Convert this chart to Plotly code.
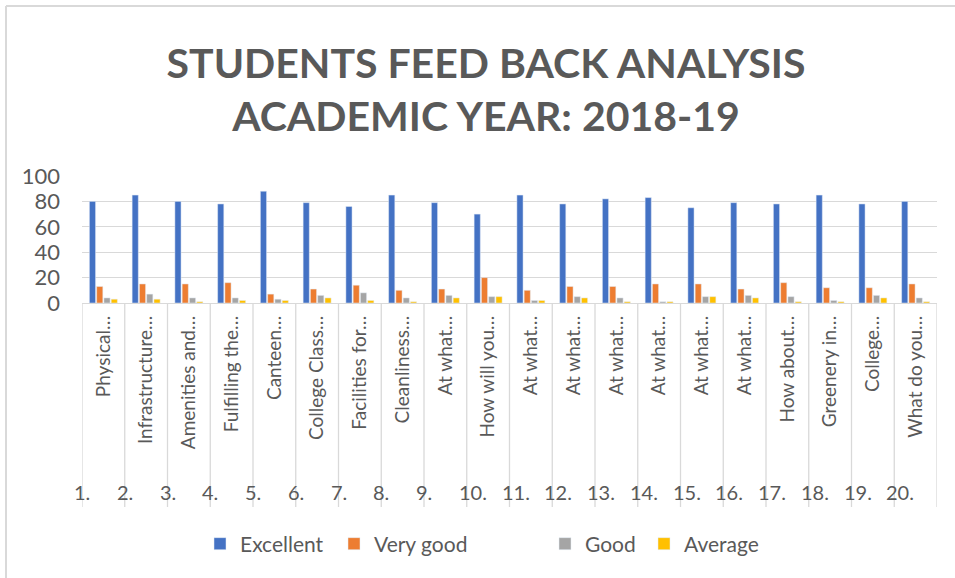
import plotly.graph_objects as go

# ---- data ----
numbers = [f"{i}." for i in range(1, 21)]
questions = ["Physical…", "Infrastructure…", "Amenities and…", "Fulfilling the…", "Canteen…",
             "College Class…", "Facilities for…", "Cleanliness…", "At what…", "How will you…",
             "At what…", "At what…", "At what…", "At what…", "At what…",
             "At what…", "How about…", "Greenery in…", "College…", "What do you…"]
excellent = [80, 85, 80, 78, 88, 79, 76, 85, 79, 70, 85, 78, 82, 83, 75, 79, 78, 85, 78, 80]
very_good = [13, 15, 15, 16, 7, 11, 14, 10, 11, 20, 10, 13, 13, 15, 15, 11, 16, 12, 12, 15]
good =      [4, 7, 4, 4, 3, 6, 8, 4, 6, 5, 2, 5, 4, 1, 5, 6, 5, 2, 6, 4]
average =   [3, 3, 1, 2, 2, 4, 2, 1, 4, 5, 2, 4, 1, 1, 5, 4, 1, 1, 4, 1]
series_names = ["Excellent", "Very good", "Good", "Average"]
y_ticks = [0, 20, 40, 60, 80, 100]

# ---- layout constants (pixels) ----
W, H = 955, 578
PL, PR, PT, PB = 82, 937, 176, 303   # plot area
FONT = "Lato"
GREY = "#595959"
LINE = "#d9d9d9"
colors = ["#4472C4", "#ED7D31", "#A5A5A5", "#FFC000"]

def px_x(p):
    return (p - PL) / (PR - PL)

def px_y(p):
    return (PB - p) / (PB - PT)

xs = list(range(1, len(numbers) + 1))
fig = go.Figure()
legend_keys = ["legend", "legend2", "legend3", "legend4"]
for name, vals, col, lk in zip(series_names, [excellent, very_good, good, average], colors, legend_keys):
    fig.add_trace(go.Bar(x=xs, y=vals, name=name, marker_color=col, legend=lk))

shapes = []
# category dividers
for i in range(len(numbers) + 1):
    shapes.append(dict(type="line", xref="x", yref="paper", x0=i + 0.5, x1=i + 0.5,
                       y0=0, y1=px_y(507), line=dict(color=LINE, width=1.3)))
# chart border (top & left)
shapes.append(dict(type="line", xref="paper", yref="paper", x0=px_x(6), x1=px_x(955),
                   y0=px_y(6), y1=px_y(6), line=dict(color=LINE, width=2)))
shapes.append(dict(type="line", xref="paper", yref="paper", x0=px_x(6), x1=px_x(6),
                   y0=px_y(6), y1=px_y(578), line=dict(color=LINE, width=2)))

annotations = []
for i, n in zip(xs, numbers):
    annotations.append(dict(x=i - 0.5, xref="x", y=px_y(492), yref="paper", text=n,
                            showarrow=False, xanchor="left", yanchor="middle", xshift=-10,
                            font=dict(family=FONT, size=20, color=GREY)))

legend_pos = [200, 334, 545, 644]
legends = {}
for lk, xp in zip(legend_keys, legend_pos):
    legends[lk] = dict(xref="container", yref="container", x=xp / W, y=1 - 544 / H,
                       xanchor="left", yanchor="middle", orientation="h",
                       font=dict(family=FONT, size=21, color=GREY), bgcolor="rgba(0,0,0,0)")

fig.update_layout(
    width=W, height=H,
    margin=dict(l=PL, r=W - PR, t=PT, b=H - PB, pad=0),
    paper_bgcolor="white", plot_bgcolor="white",
    title=dict(text="<b>STUDENTS FEED BACK ANALYSIS<br>ACADEMIC YEAR: 2018-19</b>",
               xref="container", yref="container", x=486 / W, y=1 - 78 / H,
               xanchor="center", yanchor="middle",
               font=dict(family=FONT, size=41, color=GREY)),
    barmode="group", bargap=0.32, bargroupgap=0.15,
    showlegend=True,
    shapes=shapes, annotations=annotations,
    xaxis=dict(range=[0.5, len(numbers) + 0.5], tickmode="array", tickvals=xs, ticktext=questions,
               tickangle=-90, ticks="", showgrid=False, zeroline=False,
               showline=True, linecolor=LINE, linewidth=1.3,
               ticklabelstandoff=4,
               tickfont=dict(family=FONT, size=19, color=GREY)),
    yaxis=dict(range=[0, 100], tickmode="array", tickvals=y_ticks, showgrid=True,
               gridcolor=LINE, gridwidth=1.3, zeroline=False, showline=False, ticks="",
               ticklabelstandoff=21,
               tickfont=dict(family=FONT, size=22, color=GREY)),
    **legends,
)

fig.write_html("out.html", config={"displayModeBar": False},
               post_script="document.body.style.margin='0';document.body.style.padding='0';")
